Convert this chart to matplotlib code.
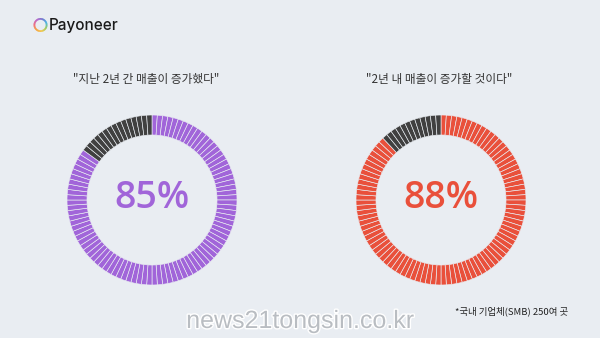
import matplotlib
matplotlib.use("Agg")
import matplotlib.pyplot as plt
import matplotlib.patheffects as pe
from matplotlib.patches import Wedge
from matplotlib.colors import LinearSegmentedColormap

plt.rcParams['font.family'] = ['Noto Sans CJK KR', 'DejaVu Sans']

# ---- data ----
titles = ['"지난 2년 간 매출이 증가했다"', '"2년 내 매출이 증가할 것이다"']
percents = [85, 88]
colors = ['#A165D9', '#E9503B']
dark = '#404040'
n_segments = 100
footnote = '*국내 기업체(SMB) 250여 곳'
brand = 'Payoneer'
watermark = 'news21tongsin.co.kr'

bg = '#E9EDF2'
W, H = 600, 338
fig = plt.figure(figsize=(6, 3.38), dpi=100, facecolor=bg)

base = fig.add_axes([0, 0, 1, 1])
base.set_xlim(0, W)
base.set_ylim(H, 0)
base.axis('off')
base.set_facecolor(bg)

# logo ring (decorative)
logo_cols = ['#F7941D', '#F9C22E', '#8DC63F', '#27AAE1', '#5B5FC7', '#B14FC5', '#EF4F6B', '#F7941D']
cm = LinearSegmentedColormap.from_list('logo', logo_cols)
nseg = 60
for i in range(nseg):
    a0 = 135 - i * 360 / nseg
    base.add_patch(Wedge((40.5, 25), 7.0, a0 - 360 / nseg - 0.5, a0, width=1.8,
                         facecolor=cm(i / nseg), edgecolor='none',
                         transform=base.transData))
base.text(49, 25.5, brand, fontsize=11, color='#1A1A1A', va='center', ha='left',
          family=['Inter', 'DejaVu Sans'], fontweight='medium')

centers_x = [152, 441]
center_y = 200
radius = 85
ring_w = 20

for k in range(2):
    cx = centers_x[k]
    p = percents[k]
    ax = fig.add_axes([(cx - radius) / W, (H - center_y - radius) / H,
                       2 * radius / W, 2 * radius / H])
    n_col = round(n_segments * p / 100)
    seg_colors = [colors[k]] * n_col + [dark] * (n_segments - n_col)
    ax.pie([1] * n_segments, colors=seg_colors, startangle=90, counterclock=False,
           wedgeprops=dict(width=ring_w / radius, edgecolor=bg, linewidth=0.45))
    ax.set_xlim(-1, 1)
    ax.set_ylim(-1, 1)
    ax.set_aspect('equal')
    ax.axis('off')
    ax.text(0, 0.02, f'{p}%', fontsize=27, fontweight='semibold', color=colors[k],
            ha='center', va='center', family=['Open Sans', 'DejaVu Sans'])
    base.text(cx - 6 + 4 * k, 80, titles[k], fontsize=8.4, color='#333333', ha='center', va='center')

base.text(568, 311, footnote, fontsize=6.8, color='#222222', ha='right', va='center')

base.text(300, 321, watermark, fontsize=18, color='#B9BDC2', ha='center', va='center',
          family=['Liberation Sans', 'DejaVu Sans'],
          path_effects=[pe.withStroke(linewidth=2, foreground='white')])

fig.savefig('out.png', dpi=100, facecolor=bg)
